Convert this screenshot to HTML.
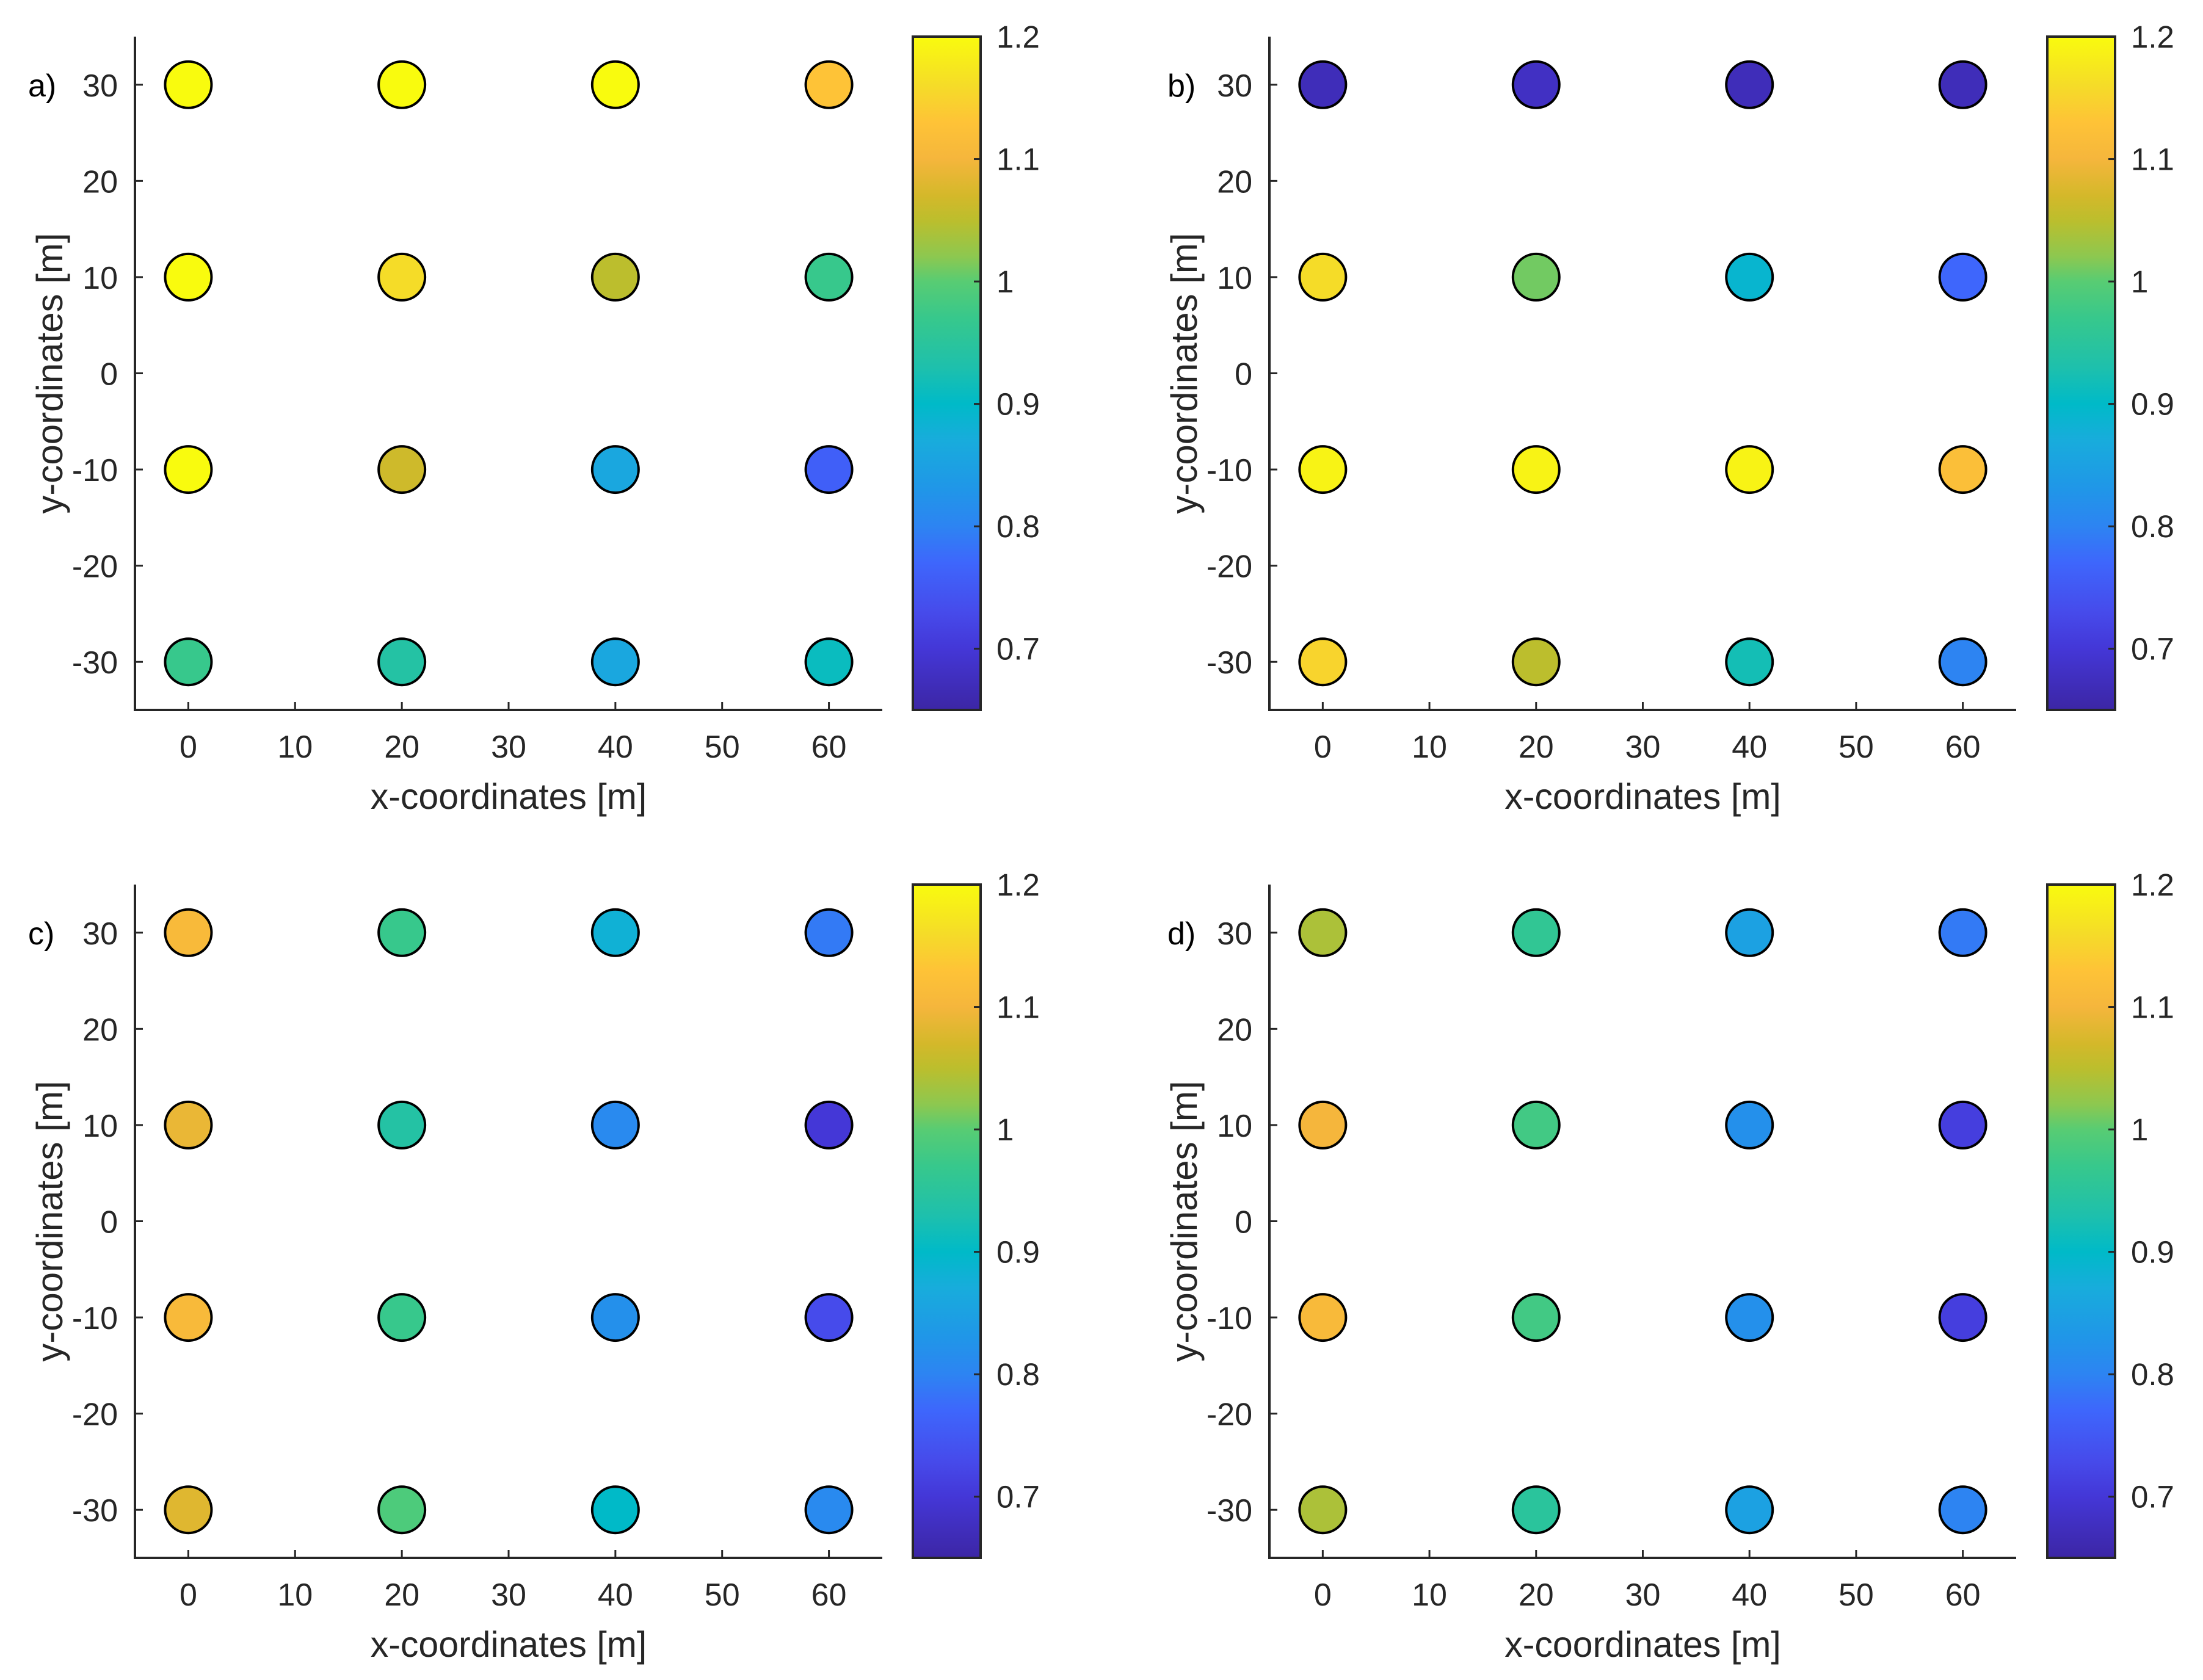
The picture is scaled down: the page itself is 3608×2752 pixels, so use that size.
<!DOCTYPE html>
<html><head><meta charset="utf-8"><style>
html,body{margin:0;padding:0;background:#fff;}
svg{display:block;font-family:"Liberation Sans",sans-serif;}
</style></head><body>
<svg id="fig" width="3608" height="2752" viewBox="0 0 3608 2752" xmlns="http://www.w3.org/2000/svg"></svg>
<script>
const xCats=[0,20,40,60];
const yCats=[30,10,-10,-30];
const xTicks=[0,10,20,30,40,50,60];
const yTicks=[30,20,10,0,-10,-20,-30];
const cTicks=[0.7,0.8,0.9,1,1.1,1.2];
const cTickLabels=["0.7","0.8","0.9","1","1.1","1.2"];
const panelLabels=["a)","b)","c)","d)"];
// values per panel, rows y=30,10,-10,-30; cols x=0,20,40,60
const valuesA=[[1.2,1.2,1.2,1.13],[1.2,1.16,1.05,0.97],[1.2,1.065,0.86,0.76],[0.97,0.94,0.86,0.91]];
const valuesB=[[0.67,0.68,0.67,0.67],[1.16,1.01,0.89,0.77],[1.19,1.19,1.19,1.12],[1.15,1.05,0.92,0.80]];
const valuesC=[[1.11,0.97,0.88,0.79],[1.09,0.94,0.81,0.70],[1.11,0.97,0.82,0.73],[1.08,0.99,0.90,0.81]];
const valuesD=[[1.04,0.96,0.85,0.79],[1.1,0.98,0.82,0.71],[1.11,0.98,0.82,0.71],[1.04,0.95,0.85,0.80]];
// colormap stops (value -> rgb)
const cmapVals=[0.65,0.70,0.73,0.77,0.80,0.83,0.87,0.90,0.93,0.97,1.00,1.02,1.05,1.07,1.10,1.13,1.16,1.20];
const cmapCols=[[60,38,165],[68,55,215],[70,75,235],[62,102,252],[45,132,242],[32,150,232],[24,172,220],[0,186,200],[30,192,172],[55,200,140],[88,204,115],[140,200,80],[188,190,45],[212,184,42],[245,182,60],[254,195,55],[245,220,40],[249,251,14]];

const NS="http://www.w3.org/2000/svg";
const svg=document.getElementById('fig');
function mk(tag,attrs,parent){const e=document.createElementNS(NS,tag);for(const k in attrs)e.setAttribute(k,attrs[k]);(parent||svg).appendChild(e);return e;}
function color(v){
  if(v<=cmapVals[0])return cmapCols[0];
  for(let i=1;i<cmapVals.length;i++){if(v<=cmapVals[i]){const t=(v-cmapVals[i-1])/(cmapVals[i]-cmapVals[i-1]);return cmapCols[i-1].map((c,j)=>Math.round(c+t*(cmapCols[i][j]-c)));}}
  return cmapCols[cmapCols.length-1];
}
const rgb=c=>`rgb(${c[0]},${c[1]},${c[2]})`;
const defs=mk('defs',{});
const grad=mk('linearGradient',{id:'cg',x1:0,y1:1,x2:0,y2:0},defs);
cmapVals.forEach((v,i)=>{mk('stop',{offset:((v-0.65)/0.55).toFixed(4),'stop-color':rgb(cmapCols[i])},grad);});

const panels=[
 {vals:valuesA,L:221,R:1445,T:60,B:1163,cL:1495,cR:1606,lab:46,ylx:82},
 {vals:valuesB,L:2079,R:3302,T:60,B:1163,cL:3353,cR:3464,lab:1912,ylx:1940},
 {vals:valuesC,L:221,R:1445,T:1449,B:2552,cL:1495,cR:1606,lab:46,ylx:82},
 {vals:valuesD,L:2079,R:3302,T:1449,B:2552,cL:3353,cR:3464,lab:1912,ylx:1940}
];
const ink="#262626";
panels.forEach((p,pi)=>{
  const g=mk('g',{});
  
  
  const xs=v=>p.L+(v+5)/70*(p.R-p.L);
  const ys=v=>p.B-(v+35)/70*(p.B-p.T);
  const cs=v=>p.B-(v-0.65)/0.55*(p.B-p.T);
  const ax=mk('path',{d:`M${p.L},${p.T}V${p.B}H${p.R}`,stroke:ink,'stroke-width':4,fill:'none'},g);
  
  xTicks.forEach(t=>{
    const x=xs(t);
    const tk=mk('line',{x1:x,x2:x,y1:p.B,y2:p.B-13,stroke:ink,'stroke-width':3},g);
    
    const tl=mk('text',{x:x,y:p.B+78,'text-anchor':'middle','font-size':52,fill:ink},g);
    tl.textContent=String(t);
    
  });
  yTicks.forEach(t=>{
    const y=ys(t);
    const tk=mk('line',{x1:p.L,x2:p.L+13,y1:y,y2:y,stroke:ink,'stroke-width':3},g);
    
    const tl=mk('text',{x:p.L-28,y:y+19,'text-anchor':'end','font-size':52,fill:ink},g);
    tl.textContent=String(t);
    
  });
  const xl=mk('text',{x:(p.L+p.R)/2,y:p.B+162,'text-anchor':'middle','font-size':59,fill:ink},g);
  xl.textContent='x-coordinates [m]';
  
  const cy=(p.T+p.B)/2;
  const yl=mk('text',{x:p.ylx,y:cy,'text-anchor':'middle','font-size':60,fill:ink,transform:`rotate(-90 ${p.ylx} ${cy})`,dy:20},g);
  yl.textContent='y-coordinates [m]';
  
  const pl=mk('text',{x:p.lab,y:ys(30)+19,'font-size':52,fill:'#000'},g);
  pl.textContent=panelLabels[pi];
  
  p.vals.forEach((row,ri)=>row.forEach((v,ci)=>{
    const c=mk('circle',{cx:xs(xCats[ci]),cy:ys(yCats[ri]),r:38,fill:rgb(color(v)),stroke:'#000','stroke-width':4},g);
    
    
  }));
  const cb=mk('rect',{x:p.cL,y:p.T,width:p.cR-p.cL,height:p.B-p.T,fill:'url(#cg)',stroke:ink,'stroke-width':4},g);
  
  cTicks.forEach((t,i)=>{
    const y=cs(t);
    const tk=mk('line',{x1:p.cR-11,x2:p.cR,y1:y,y2:y,stroke:ink,'stroke-width':3},g);
    
    const tl=mk('text',{x:p.cR+26,y:y+18,'font-size':51,fill:ink},g);
    tl.textContent=cTickLabels[i];
    
  });
});
</script>
</body></html>
